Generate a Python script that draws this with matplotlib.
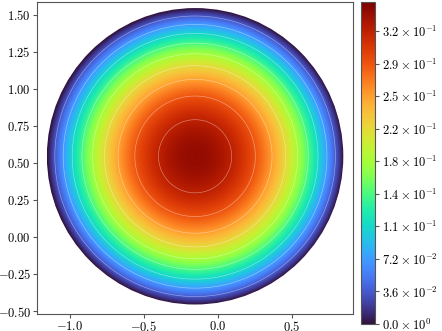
import numpy as np
import matplotlib
matplotlib.use("Agg")
import matplotlib.pyplot as plt
from matplotlib.patches import Circle
from matplotlib.ticker import FuncFormatter

plt.rcParams['mathtext.fontset'] = 'cm'
plt.rcParams['font.size'] = 9

# disk
center_x, center_y = -0.155, 0.544
radius = 1.0
peak = 0.345          # value at the centre
cmin, cmax = 0.0, 0.356

# colorbar ticks / contour levels
cbar_ticks = [0.0, 0.036, 0.072, 0.108, 0.144, 0.180, 0.216, 0.252, 0.288, 0.324]
contour_levels = cbar_ticks[1:]

x_ticks = [-1.0, -0.5, 0.0, 0.5]
y_ticks = [-0.50, -0.25, 0.00, 0.25, 0.50, 0.75, 1.00, 1.25, 1.50]

# field on a grid covering the disk
xs = np.linspace(center_x - radius, center_x + radius, 400)
ys = np.linspace(center_y - radius, center_y + radius, 400)
X, Y = np.meshgrid(xs, ys)
R2 = ((X - center_x) ** 2 + (Y - center_y) ** 2) / radius ** 2
U = peak * (1 - R2)

fig = plt.figure(figsize=(4.42, 3.31), dpi=100)
ax = fig.add_axes([0.0844, 0.0514, 0.7136, 0.9426])
cax = fig.add_axes([0.816, 0.021, 0.0324, 0.973])

im = ax.imshow(U, extent=(xs[0], xs[-1], ys[0], ys[-1]), origin='lower',
               cmap='turbo', vmin=cmin, vmax=cmax, interpolation='bilinear')
clip = Circle((center_x, center_y), radius, transform=ax.transData)
im.set_clip_path(clip)

cs = ax.contour(X, Y, np.ma.masked_where(R2 > 1, U), levels=contour_levels,
                colors='white', linewidths=0.45, alpha=0.45)

ax.set_xlim(-1.207, 0.896)
ax.set_ylim(-0.52, 1.585)
ax.set_aspect('equal', adjustable='datalim')
ax.set_xticks(x_ticks)
ax.set_yticks(y_ticks)
ax.xaxis.set_major_formatter(FuncFormatter(lambda v, p: f"${v:.1f}$"))
ax.yaxis.set_major_formatter(FuncFormatter(lambda v, p: f"${v:.2f}$"))
for s in ax.spines.values():
    s.set_color('#555555')
    s.set_linewidth(0.8)
ax.tick_params(colors='#555555', labelcolor='black', length=3, width=0.8, pad=1.5)


def sci(v, p):
    if v == 0:
        return r"$0.0 \times 10^{0}$"
    e = int(np.floor(np.log10(abs(v))))
    m = v / 10 ** e
    return rf"${m:.1f} \times 10^{{{e}}}$"


cb = fig.colorbar(im, cax=cax, ticks=cbar_ticks)
cb.ax.yaxis.set_major_formatter(FuncFormatter(sci))
cb.outline.set_edgecolor('#555555')
cb.outline.set_linewidth(0.8)
cb.ax.tick_params(colors='#555555', labelcolor='black', length=3, width=0.8, pad=2)

fig.savefig('out.png', dpi=100)
